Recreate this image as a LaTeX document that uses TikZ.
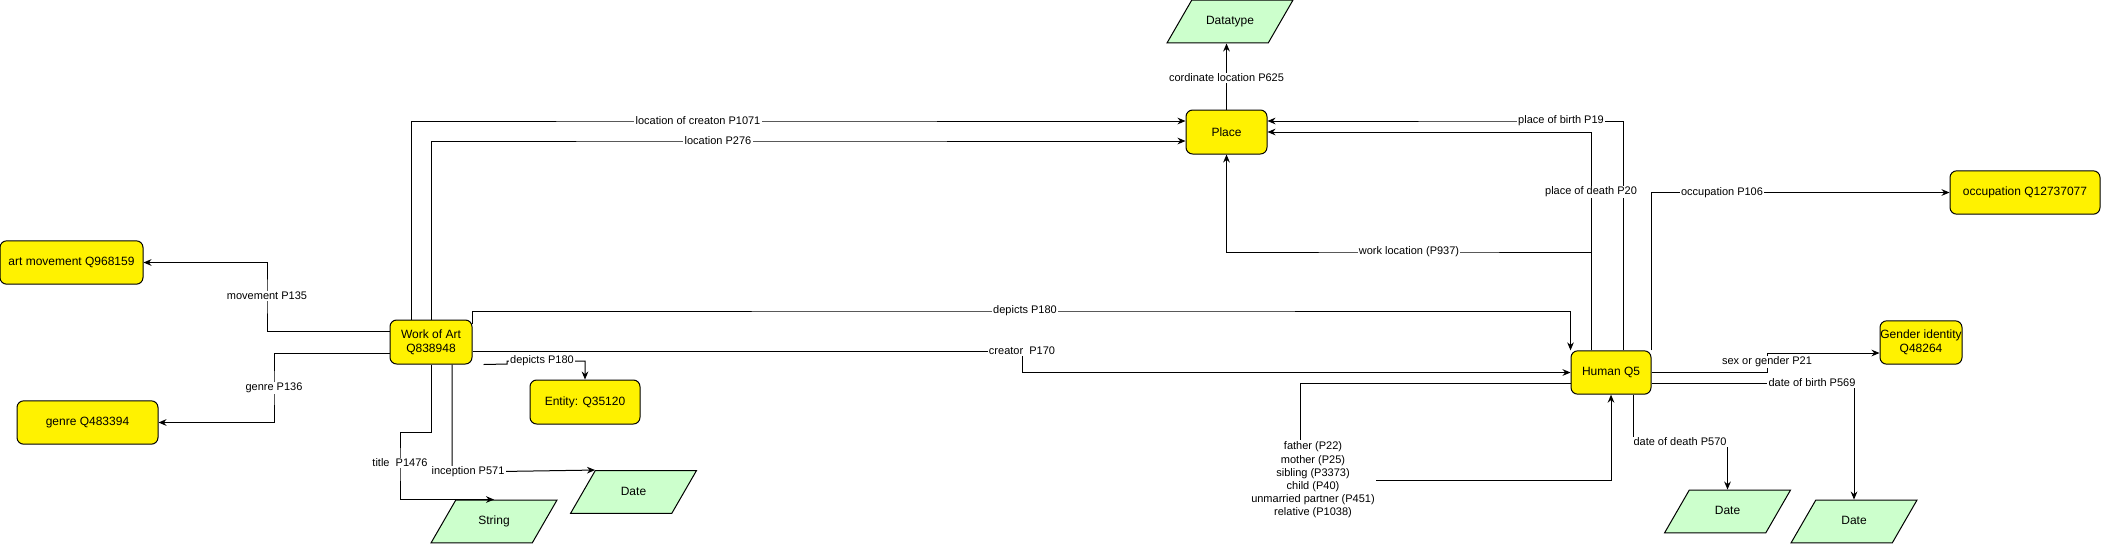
\documentclass[tikz,border=0pt]{standalone}
\usepackage{fontspec}
\setmainfont{Liberation Sans}
\usetikzlibrary{arrows.meta,shapes.geometric}
\definecolor{dtgreen}{HTML}{CCFFCC}
\begin{document}
\begin{tikzpicture}[x=0.75pt,y=-0.75pt,
		thing/.style={draw,fill=yellow,rounded corners=5pt,line width=0.75pt,inner sep=0pt,align=center,minimum height=32.5pt,font=\fontsize{9}{10.5}\selectfont},
		datatype/.style={draw,fill=dtgreen,trapezium,trapezium left angle=60,trapezium right angle=120,trapezium stretches body,line width=0.75pt,inner xsep=0pt,inner ysep=11.6pt,text height=7pt,text depth=2pt,minimum width=94.5pt,font=\fontsize{9}{10.5}\selectfont},
		rel/.style={-{Stealth[length=6pt,width=5pt]},line width=0.75pt},
		lbl/.style={fill=white,inner sep=1pt,font=\fontsize{8.25}{9.9}\selectfont}]
	\useasboundingbox (0,0) rectangle (2101,544);

	\node[thing,minimum width=107.25pt] (movement) at (71.5,262.5) {art movement Q968159};
	\node[thing,minimum width=105.75pt] (genre) at (87.5,422.5) {genre Q483394};
	\node[thing,minimum width=61.5pt,minimum height=33pt] (art) at (431,342) {Work of Art\\Q838948};
	\node[thing,minimum width=82.5pt,minimum height=33pt] (entity) at (585,402) {Entity: Q35120};
	\node[thing,minimum width=60.75pt,minimum height=33pt] (place) at (1226.5,132) {Place};
	\node[thing,minimum width=60pt] (human) at (1611,372.5) {Human Q5};
	\node[thing,minimum width=112.5pt] (occupation) at (2025,192.5) {occupation Q12737077};
	\node[thing,minimum width=61.5pt] (gender) at (1921,342.5) {Gender identity\\Q48264};

	\node[datatype] (coord) at (1230,21.5) {Datatype};
	\node[datatype] (title) at (494,521.5) {String};
	\node[datatype] (inception) at (633.5,492) {Date};
	\node[datatype] (death) at (1727.5,511.5) {Date};
	\node[datatype] (birth) at (1854,521.5) {Date};

	\node[align=center,inner sep=1pt,font=\fontsize{8.25}{9.9}\selectfont] (family) at (1313,480) {father (P22)\\mother (P25)\\sibling (P3373)\\child (P40)\\unmarried partner (P451)\\relative (P1038)};

	\draw[rel] (art.west |- 0,331) -| (267,296) node[lbl]{movement P135} |- (movement.east);
	\draw[rel] (art.west |- 0,353) -| (274,388) node[lbl]{genre P136} |- (genre.east);
	\draw[rel] (art.north -| 411,0) |- (698,121) node[lbl]{location of creaton P1071} -- (place.west |- 0,121);
	\draw[rel] (art.north) |- (718,141) node[lbl]{location P276} -- (place.west |- 0,141);
	\draw[rel] (art.east |- 0,324) |- (1025,311) node[lbl]{depicts P180} -| (human.north west);
	\draw[rel] (art.east |- 0,351) -- (1022,351) node[lbl]{creator\ \ P170} |- (human.west);
	\draw[rel] ([xshift=8.25pt]art.south east) -- (507,364) -- (507,361) -- (542,361) node[lbl]{depicts P180} -| (entity.north);
	\draw[rel] (art.south) |- (400,432) -- (400,463) node[lbl]{title\ \ P1476} |- (title.north);
	\draw[rel] (art.south -| 452,0) |- (468,472) node[lbl]{inception P571} -- (inception.top left corner);

	\draw[rel] (place.north) -- (place.north |- 0,78) node[lbl]{cordinate location P625} -- (place.north |- coord.south);

	\draw[rel] (human.north -| 1623,0) |- (1561,121) node[lbl]{place of birth P19} -- (place.east |- 0,121);
	\draw[rel] (human.north -| 1591,0) -- (1591,192) node[lbl]{place of death P20} |- (place.east);
	\draw[rel] (human.north -| 1591,0) |- (1409,252) node[lbl]{work location (P937)} -| (place.south);
	\draw[rel] (human.north east) |- (1722,192.5) node[lbl]{occupation P106} -- (occupation.west);
	\draw[rel] (human.east) -- (1767,372.5) -- (1767,362) node[lbl]{sex or gender P21} |- (gender.west |- 0,353);
	\draw[rel] (human.east |- 0,383) -- (1812,383) node[lbl]{date of birth P569} -| (birth.north);
	\draw[rel] (human.south -| 1633,0) |- (1680,442) node[lbl]{date of death P570} -| (death.north);
	\draw[line width=0.75pt] (human.west |- 0,383) -| (family.north -| 1300,0);
	\draw[rel] (family.east) -| (human.south);
\end{tikzpicture}
\end{document}
